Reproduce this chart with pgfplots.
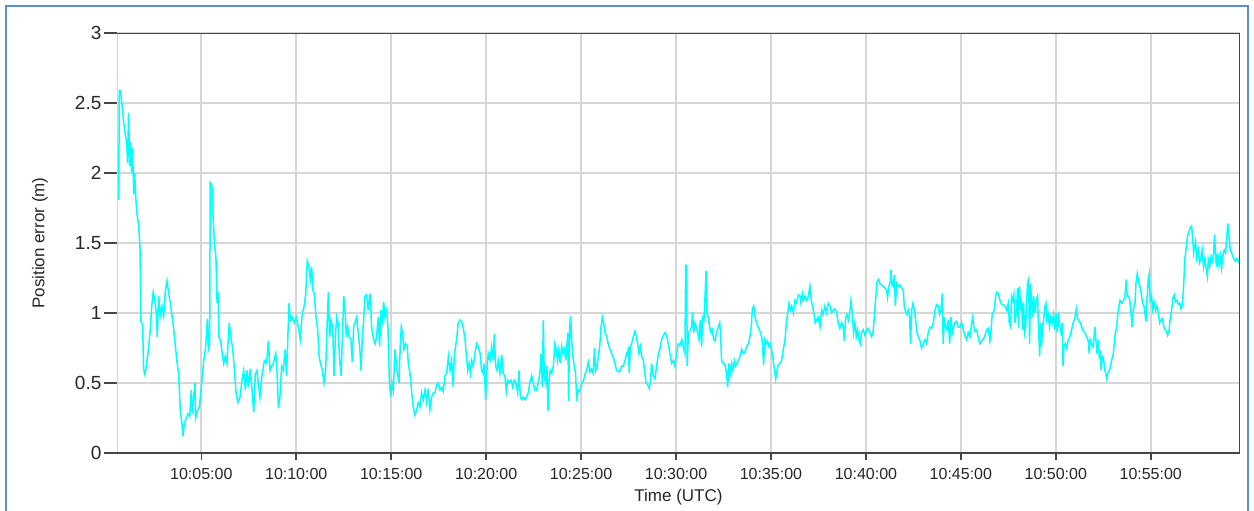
\documentclass[border=0pt]{standalone}
\usepackage{fontspec}
\setmainfont{Liberation Sans}
\usepackage{pgfplots}
\pgfplotsset{compat=1.18}
\usepackage{pgfplotstable}
\definecolor{gridgray}{RGB}{214,214,214}
\definecolor{framegray}{RGB}{70,70,70}
\definecolor{bordblue}{RGB}{95,140,205}
\definecolor{aqua}{RGB}{0,255,255}
\pgfplotstableread{
t v
0.61 1.87
0.65 1.81
0.68 2.59
0.74 2.59
0.79 2.53
0.86 2.45
0.91 2.36
1.00 2.27
1.07 2.22
1.12 2.07
1.17 2.43
1.23 2.05
1.28 2.22
1.33 2.00
1.38 2.18
1.44 1.85
1.49 2.00
1.56 1.80
1.63 1.69
1.70 1.63
1.77 1.47
1.82 0.94
1.91 0.92
1.96 0.60
2.03 0.56
2.10 0.62
2.19 0.71
2.30 0.86
2.39 1.05
2.47 1.15
2.54 1.10
2.63 1.00
2.68 0.83
2.75 1.12
2.84 0.98
2.93 1.05
3.02 0.98
3.10 1.15
3.19 1.23
3.28 1.14
3.37 1.07
3.46 0.98
3.54 0.89
3.63 0.77
3.72 0.65
3.81 0.56
3.89 0.31
3.98 0.21
4.04 0.12
4.10 0.21
4.19 0.24
4.30 0.28
4.39 0.26
4.47 0.45
4.53 0.28
4.61 0.42
4.67 0.50
4.70 0.25
4.79 0.30
4.90 0.33
5.00 0.47
5.12 0.65
5.23 0.76
5.32 0.96
5.37 0.74
5.44 0.78
5.47 1.93
5.56 1.91
5.61 1.71
5.69 1.50
5.77 1.40
5.83 1.07
5.88 1.15
5.93 0.83
6.02 0.80
6.09 0.72
6.18 0.64
6.26 0.69
6.35 0.64
6.47 0.93
6.56 0.82
6.65 0.75
6.74 0.60
6.83 0.43
6.93 0.36
7.04 0.40
7.14 0.52
7.23 0.59
7.32 0.45
7.41 0.59
7.49 0.47
7.58 0.60
7.67 0.45
7.76 0.29
7.84 0.56
7.93 0.59
8.02 0.48
8.09 0.40
8.18 0.54
8.32 0.66
8.44 0.64
8.53 0.80
8.62 0.59
8.70 0.62
8.79 0.64
8.92 0.71
8.99 0.57
9.06 0.32
9.14 0.40
9.23 0.62
9.32 0.59
9.41 0.74
9.49 0.55
9.55 0.80
9.62 1.07
9.69 0.95
9.79 0.97
9.90 0.93
10.00 0.97
10.11 0.90
10.21 0.81
10.32 1.00
10.42 1.05
10.50 1.14
10.58 1.37
10.67 1.33
10.74 1.24
10.81 1.33
10.88 1.16
10.95 1.14
11.04 0.97
11.13 0.88
11.20 0.69
11.28 0.64
11.37 0.59
11.46 0.50
11.55 0.59
11.62 0.90
11.69 1.15
11.76 0.83
11.83 0.95
11.92 0.90
11.99 0.55
12.06 0.83
12.13 0.97
12.20 0.93
12.27 0.69
12.36 0.55
12.43 0.83
12.50 1.12
12.57 1.02
12.64 0.83
12.71 0.90
12.79 0.83
12.88 0.81
12.95 0.65
13.02 0.90
13.09 0.93
13.18 0.97
13.27 0.85
13.34 0.76
13.41 0.59
13.48 0.83
13.55 0.95
13.62 1.12
13.71 1.13
13.79 1.02
13.88 1.14
13.97 0.90
14.06 0.82
14.15 0.78
14.23 0.83
14.32 0.97
14.39 0.76
14.46 1.02
14.53 0.95
14.60 1.08
14.67 0.97
14.76 1.02
14.83 0.90
14.90 0.52
14.97 0.40
15.04 0.50
15.11 0.45
15.20 0.74
15.30 0.60
15.41 0.50
15.48 0.78
15.53 0.90
15.60 0.85
15.67 0.74
15.76 0.78
15.85 0.76
15.90 0.64
15.99 0.57
16.08 0.43
16.16 0.33
16.25 0.27
16.34 0.31
16.43 0.36
16.52 0.33
16.60 0.43
16.69 0.38
16.78 0.45
16.87 0.36
16.95 0.46
17.04 0.31
17.13 0.40
17.22 0.43
17.31 0.43
17.39 0.49
17.48 0.50
17.57 0.45
17.66 0.47
17.74 0.44
17.83 0.55
17.92 0.57
18.01 0.69
18.10 0.59
18.18 0.66
18.27 0.47
18.32 0.69
18.39 0.76
18.46 0.83
18.53 0.93
18.62 0.95
18.71 0.94
18.80 0.89
18.89 0.81
18.96 0.69
19.03 0.59
19.10 0.64
19.17 0.57
19.24 0.66
19.32 0.62
19.41 0.71
19.50 0.78
19.59 0.76
19.68 0.71
19.76 0.59
19.83 0.57
19.90 0.64
19.97 0.38
20.03 0.57
20.11 0.71
20.20 0.66
20.29 0.76
20.38 0.66
20.43 0.85
20.50 0.62
20.57 0.59
20.64 0.66
20.73 0.57
20.82 0.70
20.90 0.57
20.99 0.55
21.06 0.44
21.13 0.52
21.22 0.50
21.31 0.52
21.40 0.47
21.48 0.52
21.57 0.50
21.66 0.43
21.73 0.59
21.80 0.40
21.87 0.38
21.96 0.40
22.05 0.38
22.13 0.40
22.22 0.43
22.31 0.51
22.40 0.55
22.48 0.50
22.57 0.45
22.66 0.45
22.75 0.51
22.83 0.57
22.89 0.71
22.96 0.47
23.01 0.95
23.06 0.55
23.13 0.50
23.20 0.62
23.26 0.30
23.31 0.52
23.38 0.59
23.45 0.57
23.54 0.62
23.62 0.78
23.69 0.74
23.76 0.66
23.83 0.74
23.90 0.64
23.98 0.76
24.05 0.71
24.12 0.74
24.19 0.66
24.26 0.78
24.31 0.86
24.34 0.37
24.40 0.90
24.45 0.98
24.50 0.81
24.57 0.69
24.64 0.62
24.71 0.57
24.77 0.37
24.84 0.45
24.91 0.44
24.98 0.47
25.06 0.50
25.13 0.52
25.20 0.56
25.29 0.59
25.38 0.65
25.47 0.58
25.55 0.60
25.64 0.57
25.70 0.75
25.77 0.59
25.84 0.62
25.91 0.69
25.98 0.76
26.05 0.90
26.12 0.97
26.19 0.93
26.26 0.86
26.35 0.83
26.43 0.78
26.52 0.74
26.61 0.71
26.70 0.68
26.78 0.64
26.87 0.59
26.96 0.58
27.05 0.59
27.14 0.62
27.22 0.62
27.31 0.66
27.40 0.71
27.49 0.74
27.54 0.57
27.59 0.76
27.66 0.78
27.75 0.83
27.84 0.87
27.91 0.83
27.98 0.78
28.05 0.71
28.12 0.76
28.19 0.69
28.28 0.66
28.36 0.57
28.42 0.50
28.50 0.49
28.59 0.46
28.66 0.52
28.71 0.64
28.80 0.55
28.89 0.53
28.98 0.62
29.07 0.71
29.15 0.74
29.24 0.81
29.33 0.84
29.42 0.86
29.50 0.84
29.59 0.78
29.68 0.71
29.77 0.64
29.86 0.66
29.94 0.62
30.03 0.71
30.12 0.78
30.21 0.77
30.30 0.81
30.38 0.76
30.47 0.71
30.51 1.34
30.56 1.34
30.59 0.62
30.65 0.86
30.73 0.87
30.82 0.90
30.87 1.01
30.93 0.86
31.00 0.93
31.07 0.90
31.14 0.86
31.21 0.81
31.28 0.95
31.35 0.76
31.40 0.97
31.47 0.95
31.52 1.09
31.58 1.30
31.63 1.00
31.70 0.97
31.77 0.90
31.84 0.86
31.91 0.88
31.98 0.81
32.05 0.80
32.14 0.86
32.23 0.90
32.30 0.93
32.35 0.83
32.40 0.66
32.49 0.64
32.58 0.63
32.66 0.57
32.72 0.47
32.79 0.64
32.86 0.57
32.93 0.64
33.00 0.59
33.07 0.66
33.14 0.62
33.21 0.64
33.28 0.66
33.37 0.69
33.45 0.74
33.54 0.71
33.63 0.72
33.72 0.76
33.81 0.78
33.89 0.83
33.96 0.90
34.02 1.03
34.09 1.05
34.16 0.97
34.24 0.93
34.33 0.90
34.42 0.87
34.51 0.83
34.56 0.76
34.61 0.63
34.68 0.81
34.75 0.78
34.82 0.80
34.89 0.76
34.96 0.78
35.03 0.74
35.10 0.68
35.18 0.60
35.25 0.53
35.32 0.59
35.39 0.63
35.47 0.64
35.56 0.66
35.65 0.74
35.74 0.81
35.81 0.93
35.88 1.00
35.95 1.07
36.02 1.02
36.09 1.05
36.18 1.00
36.26 1.09
36.35 1.07
36.44 1.13
36.53 1.12
36.58 1.07
36.65 1.14
36.72 1.09
36.79 1.12
36.88 1.09
36.97 1.12
37.05 1.19
37.12 1.09
37.19 1.05
37.26 1.00
37.33 0.93
37.40 0.95
37.49 0.97
37.58 0.90
37.67 1.02
37.75 0.99
37.84 1.05
37.93 1.00
38.02 1.07
38.11 1.05
38.19 1.00
38.28 1.02
38.37 1.03
38.46 1.00
38.54 0.93
38.63 0.89
38.72 0.93
38.81 0.90
38.86 0.80
38.93 0.97
39.00 0.99
39.07 0.95
39.16 1.02
39.21 1.09
39.28 1.00
39.35 0.86
39.42 0.93
39.49 0.83
39.56 0.88
39.63 0.81
39.70 0.78
39.77 0.86
39.86 0.88
39.95 0.84
40.04 0.88
40.12 0.89
40.21 0.86
40.30 0.83
40.39 0.88
40.44 0.97
40.51 1.09
40.58 1.22
40.65 1.24
40.74 1.21
40.83 1.20
40.91 1.19
41.00 1.18
41.09 1.16
41.14 1.11
41.21 1.19
41.28 1.22
41.32 1.31
41.37 1.20
41.44 1.19
41.49 1.27
41.55 1.05
41.62 1.21
41.70 1.19
41.79 1.20
41.88 1.18
41.97 1.16
42.02 1.05
42.09 1.01
42.16 0.99
42.23 1.02
42.30 0.97
42.35 0.78
42.41 1.02
42.48 1.07
42.55 1.02
42.62 0.95
42.69 0.86
42.76 0.83
42.85 0.80
42.93 0.75
43.02 0.78
43.11 0.81
43.20 0.78
43.28 0.86
43.37 0.90
43.46 0.89
43.55 0.93
43.64 1.02
43.72 1.06
43.81 1.05
43.88 0.99
43.95 1.01
44.02 1.14
44.07 0.78
44.13 0.97
44.20 0.90
44.27 0.88
44.34 0.95
44.41 0.78
44.48 0.97
44.55 0.86
44.62 0.90
44.69 0.93
44.78 0.94
44.86 0.90
44.95 0.90
45.04 0.93
45.13 0.88
45.21 0.84
45.30 0.81
45.39 0.86
45.48 0.83
45.57 0.93
45.62 0.97
45.69 0.90
45.74 0.87
45.83 0.88
45.92 0.82
46.00 0.78
46.09 0.80
46.18 0.81
46.27 0.84
46.36 0.88
46.44 0.89
46.53 0.80
46.58 0.86
46.65 0.99
46.76 1.02
46.83 1.12
46.90 1.15
46.97 1.14
47.06 1.09
47.15 1.06
47.23 1.06
47.32 1.05
47.41 1.02
47.50 1.07
47.55 0.93
47.62 0.90
47.67 1.12
47.74 1.09
47.79 1.13
47.85 0.93
47.92 1.00
47.99 1.18
48.04 0.89
48.09 1.19
48.15 1.02
48.20 1.09
48.25 0.88
48.30 1.07
48.36 0.86
48.41 0.90
48.46 1.07
48.51 1.21
48.57 1.24
48.62 0.78
48.67 1.21
48.72 1.09
48.78 0.97
48.83 1.12
48.90 1.00
48.97 1.09
49.04 1.12
49.09 0.90
49.15 0.69
49.20 0.93
49.25 0.76
49.30 0.90
49.36 0.95
49.43 1.05
49.48 1.07
49.53 0.95
49.60 0.99
49.67 0.90
49.74 0.97
49.81 0.93
49.88 0.99
49.95 0.88
50.01 1.00
50.08 0.86
50.15 0.97
50.22 0.90
50.27 0.86
50.34 0.93
50.38 0.62
50.43 0.76
50.50 0.78
50.57 0.75
50.66 0.81
50.74 0.83
50.83 0.88
50.92 0.93
51.01 0.97
51.08 1.03
51.15 0.96
51.22 0.94
51.29 0.93
51.36 0.90
51.45 0.87
51.53 0.86
51.62 0.83
51.71 0.80
51.76 0.71
51.81 0.81
51.88 0.78
51.97 0.76
52.06 0.90
52.11 0.81
52.17 0.71
52.24 0.81
52.29 0.69
52.34 0.71
52.39 0.59
52.45 0.69
52.50 0.68
52.59 0.59
52.68 0.53
52.76 0.58
52.85 0.60
52.94 0.66
53.03 0.71
53.11 0.83
53.20 0.90
53.29 1.02
53.38 1.09
53.47 1.07
53.55 1.08
53.64 1.12
53.71 1.24
53.76 1.12
53.83 1.12
53.90 1.09
53.96 1.00
54.01 0.90
54.08 1.02
54.17 1.07
54.22 1.21
54.29 1.28
54.36 1.22
54.43 1.19
54.50 1.14
54.57 1.07
54.64 1.05
54.69 1.00
54.75 0.94
54.80 1.09
54.87 1.24
54.92 1.28
54.97 1.09
55.04 1.12
55.11 1.02
55.19 1.07
55.26 1.02
55.33 1.05
55.40 1.00
55.47 0.93
55.54 0.95
55.61 0.96
55.68 0.91
55.75 0.88
55.82 0.87
55.89 0.84
55.96 0.87
56.03 0.97
56.10 1.02
56.17 1.11
56.24 1.13
56.31 1.08
56.38 1.09
56.45 1.06
56.52 1.07
56.59 1.03
56.66 1.05
56.73 1.19
56.80 1.39
56.87 1.47
56.94 1.55
57.01 1.58
57.08 1.61
57.15 1.62
57.20 1.55
57.26 1.43
57.31 1.47
57.36 1.51
57.41 1.39
57.50 1.45
57.57 1.36
57.64 1.39
57.71 1.45
57.78 1.33
57.85 1.39
57.92 1.31
57.98 1.26
58.03 1.38
58.10 1.33
58.17 1.40
58.24 1.37
58.31 1.43
58.36 1.56
58.42 1.39
58.47 1.33
58.52 1.43
58.59 1.34
58.66 1.41
58.73 1.32
58.80 1.41
58.87 1.45
58.94 1.43
59.01 1.55
59.06 1.64
59.12 1.55
59.19 1.45
59.26 1.43
59.33 1.40
59.40 1.38
59.47 1.37
59.54 1.39
59.63 1.36
59.70 1.36
}\posdata
\begin{document}
\begin{tikzpicture}
\useasboundingbox (-58.5pt,-28.5pt) rectangle (568.5pt,226.5pt);
\draw[bordblue, line width=1pt] (-55.5pt,-40pt) -- (-55.5pt,223.5pt) -- (565.5pt,223.5pt) -- (565.5pt,-40pt);
\begin{axis}[
  scale only axis,
  width=561.5pt, height=210pt,
  xmin=0.56, xmax=59.70,
  ymin=0, ymax=3,
  xtick={5,10,15,20,25,30,35,40,45,50,55},
  xticklabels={10:05:00,10:10:00,10:15:00,10:20:00,10:25:00,10:30:00,10:35:00,10:40:00,10:45:00,10:50:00,10:55:00},
  ytick={0,0.5,1,1.5,2,2.5,3},
  tick align=outside,
  xtick pos=bottom, ytick pos=left,
  xtick style={draw=framegray, line width=0.8pt, /pgfplots/major tick length=3.5pt},
  ytick style={draw=framegray, line width=0.8pt, /pgfplots/major tick length=6.5pt},
  grid=major,
  major grid style={gridgray, line width=0.9pt},
  axis line style={draw=none},
  xticklabel style={font=\fontsize{8}{9.6}\selectfont, text=black!85},
  yticklabel style={font=\fontsize{9.5}{11}\selectfont, text=black!85},
  /pgf/number format/assume math mode=true,
  xlabel={Time (UTC)},
  ylabel={Position error (m)},
  label style={font=\fontsize{8.5}{10}\selectfont, text=black!85},
  xlabel style={at={(axis description cs:0.5,-0.105)}, anchor=center},
  ylabel style={at={(axis description cs:-0.0686,0.5)}, anchor=center},
  clip=true,
]
\addplot[color=aqua, line width=0.75pt, no markers] table[x=t, y=v] {\posdata};
\draw[gridgray, line width=0.9pt] (rel axis cs:0,0) -- (rel axis cs:0,1);
\draw[framegray, line width=1pt] (rel axis cs:0,1) -- (rel axis cs:1,1) -- (rel axis cs:1,0) -- (rel axis cs:0,0);
\end{axis}
\end{tikzpicture}
\end{document}
